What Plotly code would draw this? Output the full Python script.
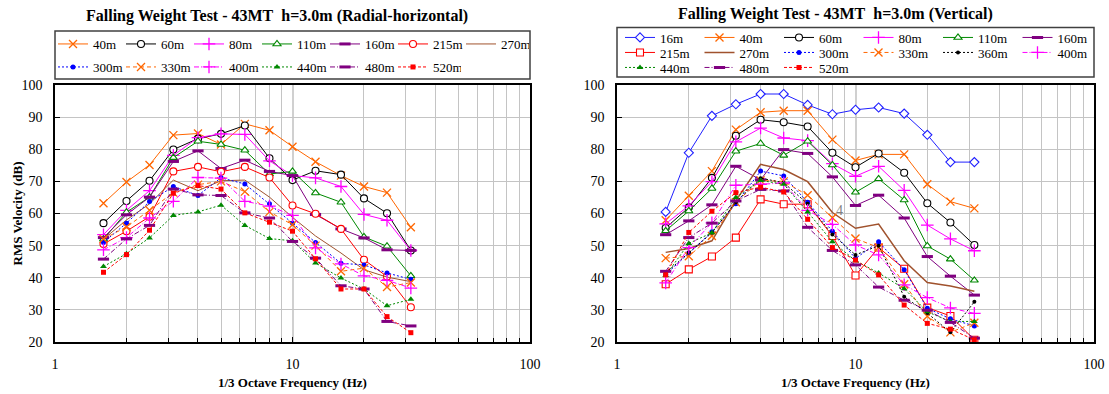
import math
import plotly.graph_objects as go

freq = [1.6, 2, 2.5, 3.15, 4, 5, 6.3, 8, 10, 12.5, 16, 20, 25, 31.5]

# Radial-horizontal (left)
h_40 = [63.2, 69.8, 75.1, 84.4, 84.9, 81.5, 87.9, 85.9, 80.8, 76.1, 71.8, 68.4, 66.5, 55.7]
h_60 = [57.0, 63.9, 70.2, 79.9, 83.3, 84.8, 87.4, 77.2, 70.4, 73.3, 72.1, 64.7, 60.1, 48.5]
h_80 = [53.4, 61.0, 67.1, 78.1, 83.6, 84.8, 84.6, 76.4, 71.8, 71.1, 68.4, 59.7, 57.9, 48.5]
h_110 = [52.0, 60.4, 65.1, 77.4, 82.5, 81.5, 79.7, 72.3, 73.1, 66.4, 63.5, 52.7, 49.8, 40.6]
h_160 = [52.5, 59.6, 65.1, 76.2, 79.5, 74.0, 76.6, 73.1, 71.8, 59.7, 55.2, 52.4, 48.7, 48.5]
h_215 = [50.5, 54.5, 59.0, 73.1, 74.5, 73.0, 74.5, 71.2, 62.5, 59.9, 55.2, 45.6, 40.4, 30.8]
h_270 = [52.0, 58.0, 63.0, 70.4, 67.1, 70.2, 70.4, 65.1, 58.8, 53.0, 47.7, 42.5, 40.2, 38.8]
h_300 = [51.0, 57.0, 63.7, 68.4, 65.6, 71.1, 69.2, 63.0, 57.0, 51.0, 44.5, 44.0, 41.5, 39.5]
h_330 = [52.1, 55.8, 61.0, 66.5, 69.0, 70.0, 66.8, 60.5, 56.5, 50.0, 42.0, 43.0, 37.1, 38.5]
h_400 = [48.7, 52.5, 58.6, 63.8, 71.2, 71.0, 63.8, 62.3, 59.4, 49.3, 44.3, 40.6, 39.2, 36.8]
h_440 = [43.5, 47.5, 52.4, 59.4, 60.5, 62.6, 56.3, 52.2, 51.5, 44.6, 39.9, 36.5, 31.3, 33.3]
h_480 = [45.8, 52.1, 56.3, 67.6, 65.8, 65.6, 60.2, 58.6, 51.3, 46.1, 37.5, 36.5, 26.4, 25.0]
h_520 = [41.7, 47.2, 54.8, 66.3, 68.7, 67.6, 60.2, 57.3, 54.5, 45.9, 36.5, 36.5, 27.9, 22.9]

# Vertical (right)
v_16 = [60.5, 78.9, 90.4, 94.0, 97.2, 97.2, 93.8, 90.9, 92.3, 93.0, 91.1, 84.5, 76.0, 76.0]
v_40 = [57.9, 65.5, 73.2, 86.1, 91.5, 92.0, 92.0, 83.0, 76.5, 78.4, 78.4, 69.1, 63.7, 61.6]
v_60 = [55.5, 61.9, 71.1, 84.2, 89.2, 88.4, 87.1, 78.9, 74.4, 78.7, 72.7, 63.2, 57.2, 50.2]
v_80 = [56.8, 62.4, 69.9, 82.3, 86.6, 83.5, 82.7, 75.5, 71.6, 74.7, 67.2, 56.4, 52.1, 48.4]
v_110 = [54.6, 60.8, 67.8, 79.4, 81.8, 78.1, 82.5, 75.1, 66.6, 70.8, 64.2, 49.9, 45.8, 39.2]
v_160 = [53.4, 57.7, 62.7, 74.7, 70.5, 79.9, 78.7, 71.4, 62.5, 65.7, 58.6, 46.6, 40.5, 34.6]
v_215 = [38.0, 42.6, 46.6, 52.5, 64.4, 62.9, 62.9, 53.0, 40.7, 49.4, 42.8, 30.7, 28.1, 20.7]
v_270 = [47.9, 49.1, 51.5, 64.0, 75.3, 73.7, 69.9, 60.3, 55.4, 56.7, 45.3, 38.5, 37.4, 35.8]
v_300 = [41.0, 47.5, 54.3, 63.0, 73.2, 71.7, 63.5, 54.5, 46.0, 51.2, 42.5, 30.5, 27.2, 25.0]
v_330 = [46.1, 46.7, 53.0, 63.5, 70.3, 70.0, 65.7, 58.7, 52.2, 49.4, 38.0, 28.0, 23.0, 26.0]
v_360 = [41.5, 47.9, 54.0, 63.5, 71.0, 69.6, 63.0, 53.5, 47.1, 50.0, 34.1, 29.0, 23.0, 32.5]
v_400 = [38.4, 49.4, 57.1, 68.8, 69.1, 69.5, 61.0, 56.6, 50.2, 47.1, 37.8, 33.8, 30.6, 28.9]
v_440 = [40.7, 50.7, 54.0, 65.0, 70.3, 69.1, 60.5, 51.2, 45.3, 41.5, 36.6, 29.4, 26.4, 26.4]
v_480 = [42.0, 52.5, 57.0, 63.9, 67.5, 67.0, 55.7, 48.5, 44.0, 37.1, 33.0, 29.9, 26.1, 21.2]
v_520 = [40.9, 54.1, 60.7, 66.5, 68.2, 66.7, 58.2, 49.4, 45.5, 40.9, 31.5, 25.8, 24.0, 20.7]

title_left = "Falling Weight Test - 43MT\u00a0 h=3.0m (Radial-horizontal)"
title_right = "Falling Weight Test - 43MT\u00a0 h=3.0m (Vertical)"
x_title = "1/3 Octave Frequency (Hz)"
y_title = "RMS Velocity (dB)"
x_tickvals = [1, 10, 100]
x_ticktext = ["1", "10", "100"]
x_minor = [2, 3, 4, 5, 6, 7, 8, 9, 20, 30, 40, 50, 60, 70, 80, 90]

ORANGE = "#FF6600"
BLACK = "#000000"
MAGENTA = "#FF00FF"
GREEN = "#008800"
PURPLE = "#800080"
RED = "#FF0000"
BROWN = "#A0522D"
BLUE = "#0000FF"
BLUE2 = "#2020FF"

FONT = "Liberation Serif"

fig = go.Figure()


def marker_for(kind, color):
    if kind == "x":
        return dict(symbol="x-thin-open", size=8, color=color, line=dict(color=color, width=1.3))
    if kind == "+":
        return dict(symbol="cross-thin-open", size=9, color=color, line=dict(color=color, width=1.3))
    if kind == "dash":
        return dict(symbol="line-ew-open", size=8, color=color, line=dict(color=color, width=3))
    if kind in ("circle-open", "triangle-open", "square-open", "diamond-open"):
        sym = {"circle-open": "circle", "triangle-open": "triangle-up",
               "square-open": "square", "diamond-open": "diamond"}[kind]
        return dict(symbol=sym, size=7, color="white", line=dict(color=color, width=1.1))
    if kind == "dot":
        return dict(symbol="circle", size=5, color=color, line=dict(width=0))
    if kind == "dot-s":
        return dict(symbol="circle", size=4, color=color, line=dict(width=0))
    if kind == "tri":
        return dict(symbol="triangle-up", size=6, color=color, line=dict(width=0))
    if kind == "sq":
        return dict(symbol="square", size=5, color=color, line=dict(width=0))
    return None


def add(name, y, color, kind, dash, legend, ax, width=1.0):
    m = marker_for(kind, color)
    fig.add_trace(go.Scatter(
        x=freq, y=y, name=name,
        mode="lines+markers" if m else "lines",
        line=dict(color=color, width=width, dash=dash),
        marker=m if m else None,
        legend=legend,
        xaxis="x" if ax == 1 else "x2",
        yaxis="y" if ax == 1 else "y2",
        cliponaxis=True,
    ))


DOT = "2px,2px"
DASH = "4px,3px"
DASHDOT = "5px,2px,1px,2px"
SDASH = "3px,2px"

# left
add("40m", h_40, ORANGE, "x", "solid", "legend", 1)
add("60m", h_60, BLACK, "circle-open", "solid", "legend", 1)
add("80m", h_80, MAGENTA, "+", "solid", "legend", 1)
add("110m", h_110, GREEN, "triangle-open", "solid", "legend", 1)
add("160m", h_160, PURPLE, "dash", "solid", "legend", 1)
add("215m", h_215, RED, "circle-open", "solid", "legend", 1)
add("270m", h_270, BROWN, None, "solid", "legend", 1)
add("300m", h_300, BLUE, "dot", DOT, "legend2", 1)
add("330m", h_330, ORANGE, "x", DASH, "legend2", 1)
add("400m", h_400, MAGENTA, "+", DASHDOT, "legend2", 1)
add("440m", h_440, GREEN, "tri", DOT, "legend2", 1)
add("480m", h_480, PURPLE, "dash", DASHDOT, "legend2", 1)
add("520m", h_520, RED, "sq", SDASH, "legend2", 1)

# right
add("16m", v_16, BLUE2, "diamond-open", "solid", "legend3", 2)
add("40m", v_40, ORANGE, "x", "solid", "legend3", 2)
add("60m", v_60, BLACK, "circle-open", "solid", "legend3", 2)
add("80m", v_80, MAGENTA, "+", "solid", "legend3", 2)
add("110m", v_110, GREEN, "triangle-open", "solid", "legend3", 2)
add("160m", v_160, PURPLE, "dash", "solid", "legend3", 2)
add("215m", v_215, RED, "square-open", "solid", "legend4", 2)
add("270m", v_270, BROWN, None, "solid", "legend4", 2, width=1.5)
add("300m", v_300, BLUE, "dot", DOT, "legend4", 2)
add("330m", v_330, ORANGE, "x", DASH, "legend4", 2)
add("360m", v_360, BLACK, "dot-s", DOT, "legend4", 2)
add("400m", v_400, MAGENTA, "+", DASHDOT, "legend4", 2)
add("440m", v_440, GREEN, "tri", DOT, "legend5", 2)
add("480m", v_480, PURPLE, "dash", DASHDOT, "legend5", 2)
add("520m", v_520, RED, "sq", SDASH, "legend5", 2)

W, H = 1109, 394
ML, MR, MT, MB = 55, 15, 85, 52
GW = W - ML - MR
GH = H - MT - MB


def px_x(p):
    return (p - ML) / GW


def px_y(p):
    return (H - MB - p) / GH


def legend_row(x_px, y_px, ew):
    return dict(orientation="h", xref="paper", yref="paper",
                x=px_x(x_px), y=px_y(y_px), xanchor="left", yanchor="middle",
                entrywidth=ew, entrywidthmode="pixels", itemwidth=30,
                font=dict(family=FONT, size=13, color="black"),
                bgcolor="rgba(0,0,0,0)", borderwidth=0, tracegroupgap=0)


def xaxis_cfg(domain, anchor):
    return dict(type="log", range=[0, 2], domain=domain, anchor=anchor,
                tickvals=x_tickvals, ticktext=x_ticktext,
                ticks="inside", ticklen=5, tickcolor="black",
                showgrid=True, gridcolor="#D0D0D0", gridwidth=2,
                minor=dict(tickvals=x_minor, showgrid=True, gridcolor="#C4C4C4",
                           gridwidth=1, ticks="inside", ticklen=4, tickcolor="black"),
                showline=True, linecolor="black", linewidth=1.5, mirror=True,
                tickfont=dict(family=FONT, size=14, color="black"),
                ticklabelstandoff=8, zeroline=False)


def yaxis_cfg(anchor):
    return dict(range=[20, 100], dtick=10, anchor=anchor, domain=[0, 1],
                ticks="inside", ticklen=5, tickcolor="black",
                showgrid=True, gridcolor="#C4C4C4", gridwidth=1,
                showline=True, linecolor="black", linewidth=1.5, mirror=True,
                tickfont=dict(family=FONT, size=14, color="black"),
                ticklabelstandoff=8, zeroline=False)


fig.update_layout(
    width=W, height=H,
    margin=dict(l=ML, r=MR, t=MT, b=MB, autoexpand=False),
    paper_bgcolor="white", plot_bgcolor="white",
    font=dict(family=FONT, color="black"),
    xaxis=xaxis_cfg([0, px_x(530)], "y"),
    yaxis=yaxis_cfg("x"),
    xaxis2=xaxis_cfg([px_x(617), 1], "y2"),
    yaxis2=yaxis_cfg("x2"),
    legend=legend_row(53, 44, 23),
    legend2=legend_row(53, 67, 23),
    legend3=legend_row(620, 37.5, 34.5),
    legend4=legend_row(620, 52.5, 34.5),
    legend5=legend_row(620, 67.5, 34.5),
    showlegend=True,
)

shapes = [
    dict(type="rect", xref="paper", yref="paper",
         x0=px_x(55), x1=px_x(530), y0=px_y(79), y1=px_y(31),
         line=dict(color="#404040", width=1.5), fillcolor="rgba(0,0,0,0)", layer="above"),
    dict(type="rect", xref="paper", yref="paper",
         x0=px_x(617), x1=px_x(1094), y0=px_y(77), y1=px_y(27.5),
         line=dict(color="#404040", width=1.5), fillcolor="rgba(0,0,0,0)", layer="above"),
]
fig.update_layout(shapes=shapes)

ann = [
    dict(text="<b>%s</b>" % title_left, xref="paper", yref="paper",
         x=px_x(277), y=px_y(16), showarrow=False, xanchor="center", yanchor="middle",
         font=dict(family=FONT, size=16, color="black")),
    dict(text="<b>%s</b>" % title_right, xref="paper", yref="paper",
         x=px_x(835), y=px_y(14), showarrow=False, xanchor="center", yanchor="middle",
         font=dict(family=FONT, size=16, color="black")),
    dict(text="<b>%s</b>" % x_title, xref="paper", yref="paper",
         x=px_x(292.5), y=px_y(383), showarrow=False, xanchor="center", yanchor="middle",
         font=dict(family=FONT, size=13, color="black")),
    dict(text="<b>%s</b>" % x_title, xref="paper", yref="paper",
         x=px_x(855.5), y=px_y(383), showarrow=False, xanchor="center", yanchor="middle",
         font=dict(family=FONT, size=13, color="black")),
    dict(text="<b>%s</b>" % y_title, xref="paper", yref="paper",
         x=px_x(17), y=0.5, showarrow=False, xanchor="center", yanchor="middle",
         textangle=-90, font=dict(family=FONT, size=13, color="black")),
    dict(text="4", xref="x2", yref="y2", x=math.log10(8.6), y=61,
         showarrow=False, font=dict(family=FONT, size=14, color="#808080")),
]
fig.update_layout(annotations=ann)

fig.write_html("out.html", config={"displayModeBar": False},
               post_script="document.body.style.margin='0px';")
